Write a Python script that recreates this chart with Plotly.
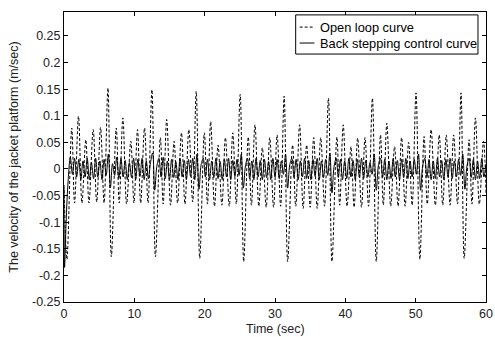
import plotly.graph_objects as go

# ---- Open loop curve (extrema) ----
open_t = [0.0, 0.42,
          1.1, 1.5, 2.06, 2.55, 3.1, 3.55, 4.15, 4.65, 5.2, 5.7, 6.25, 6.73,
          7.43, 7.85, 8.37, 8.9, 9.5, 9.95, 10.45, 10.9, 11.45, 11.95, 12.5, 13.0,
          13.7, 14.1, 14.6, 15.15, 15.65, 16.15, 16.7, 17.2, 17.75, 18.3, 18.8, 19.3,
          19.95, 20.4, 20.85, 21.4, 21.9, 22.45, 22.95, 23.5, 24.0, 24.5, 25.05, 25.55,
          26.2, 26.65, 27.15, 27.7, 28.2, 28.75, 29.25, 29.8, 30.3, 30.8, 31.3, 31.8,
          32.5, 32.95, 33.5, 34.0, 34.5, 35.0, 35.5, 36.0, 36.5, 37.05, 37.6, 38.1,
          38.8, 39.2, 39.7, 40.25, 40.8, 41.25, 41.75, 42.3, 42.8, 43.3, 43.85, 44.4,
          45.0, 45.4, 45.9, 46.45, 47.0, 47.5, 48.0, 48.5, 49.0, 49.5, 50.05, 50.6,
          51.2, 51.65, 52.2, 52.8, 53.35, 53.85, 54.35, 54.9, 55.4, 55.95, 56.45, 56.9,
          57.6, 58.0, 58.5, 59.05, 59.65, 60.0]
open_v = [-0.03, -0.17,
          0.077, -0.064, 0.099, -0.064, 0.055, -0.064, 0.074, -0.062, 0.078, -0.064, 0.152, -0.165,
          0.077, -0.064, 0.096, -0.066, 0.052, -0.064, 0.074, -0.064, 0.077, -0.064, 0.149, -0.165,
          0.059, -0.066, 0.093, -0.068, 0.052, -0.064, 0.068, -0.066, 0.074, -0.062, 0.146, -0.168,
          0.068, -0.066, 0.089, -0.070, 0.045, -0.068, 0.059, -0.070, 0.068, -0.066, 0.140, -0.174,
          0.060, -0.068, 0.083, -0.070, 0.040, -0.072, 0.059, -0.072, 0.064, -0.070, 0.137, -0.174,
          0.045, -0.070, 0.083, -0.074, 0.045, -0.072, 0.059, -0.074, 0.059, -0.070, 0.133, -0.174,
          0.060, -0.068, 0.083, -0.070, 0.042, -0.072, 0.058, -0.072, 0.059, -0.070, 0.133, -0.174,
          0.064, -0.068, 0.086, -0.070, 0.042, -0.070, 0.059, -0.070, 0.050, -0.068, 0.143, -0.170,
          0.061, -0.066, 0.074, -0.068, 0.064, -0.068, 0.064, -0.068, 0.064, -0.066, 0.143, -0.168,
          0.055, -0.066, 0.096, -0.066, 0.052, -0.045]

# ---- Back stepping control curve ----
bs_start_t = [0.0, 0.08, 0.3, 0.55]
bs_start_v = [-0.035, -0.185, -0.10, -0.03]
bs_step = 0.3          # sampling step of the values below, starting at t = 0.9 s
bs_first = 0.9
bs_v = [
    0.022, -0.010, 0.020, -0.015, 0.018, -0.020, 0.015, -0.015, 0.020, -0.020,
    0.012, -0.018, 0.020, -0.015, 0.015, -0.020, 0.018, -0.012, 0.028, -0.035,
    0.010, -0.012, 0.022, -0.018, 0.020, -0.015, 0.016, -0.020, 0.012, -0.016,
    0.020, -0.020, 0.018, -0.014, 0.020, -0.020, 0.015, -0.018, 0.012, 0.030,
    -0.040, 0.005, 0.020, -0.015, 0.022, -0.018, 0.015, -0.020, 0.018, -0.016,
    0.014, -0.020, 0.020, -0.015, 0.016, -0.020, 0.018, -0.014, 0.020, -0.020,
    0.028, -0.038, 0.008, 0.020, -0.015, 0.018, -0.020, 0.015, -0.016, 0.020,
    -0.018, 0.014, -0.020, 0.018, -0.015, 0.020, -0.020, 0.016, -0.014, 0.018,
    -0.012, 0.028, -0.036, 0.006, 0.020, -0.018, 0.015, -0.020, 0.020, -0.015,
    0.016, -0.020, 0.018, -0.016, 0.014, -0.020, 0.020, -0.015, 0.018, -0.018,
    0.015, -0.010, 0.028, -0.036, 0.008, 0.020, -0.016, 0.018, -0.020, 0.015,
    -0.015, 0.020, -0.018, 0.016, -0.020, 0.018, -0.014, 0.020, -0.020, 0.015,
    -0.016, 0.018, -0.012, 0.030, -0.045, 0.005, 0.020, -0.016, 0.018, -0.020,
    0.015, -0.018, 0.020, -0.015, 0.016, -0.020, 0.018, -0.016, 0.020, -0.018,
    0.016, -0.015, 0.012, -0.010, 0.028, -0.040, 0.006, 0.020, -0.016, 0.018,
    -0.020, 0.015, -0.018, 0.020, -0.015, 0.016, -0.020, 0.018, -0.016, 0.020,
    -0.018, 0.015, -0.015, 0.018, -0.010, 0.028, -0.040, 0.006, 0.020, -0.016,
    0.018, -0.020, 0.015, -0.018, 0.020, -0.015, 0.016, -0.020, 0.018, -0.016,
    0.020, -0.018, 0.015, -0.015, 0.018, -0.012, 0.028, -0.038, 0.006, 0.020,
    -0.016, 0.018, -0.020, 0.015, -0.018, 0.020, -0.015, 0.010]
bs_t = bs_start_t + [round(bs_first + bs_step * i, 2) for i in range(len(bs_v))]
bs_all = bs_start_v + bs_v

x_ticks = [0, 10, 20, 30, 40, 50, 60]
y_ticks = [-0.25, -0.2, -0.15, -0.1, -0.05, 0, 0.05, 0.1, 0.15, 0.2, 0.25]
y_text = ["-0.25", "-0.2", "-0.15", "-0.1", "-0.05", "0", "0.05", "0.1", "0.15", "0.2", "0.25"]
series_names = ["Open loop curve", "Back stepping control curve"]

FONT = "Liberation Sans, Arial, sans-serif"
FS = 12.5
DASH = "3px,2px"

fig = go.Figure()
fig.add_trace(go.Scatter(x=open_t, y=open_v, mode="lines", name=series_names[0], showlegend=False,
                         line=dict(color="black", width=1, dash=DASH, shape="spline")))
fig.add_trace(go.Scatter(x=bs_t, y=bs_all, mode="lines", name=series_names[1], showlegend=False,
                         line=dict(color="black", width=1, shape="spline")))

axis_common = dict(showline=True, linecolor="black", linewidth=1, mirror="allticks",
                   ticks="inside", ticklen=4, tickcolor="black", showgrid=False,
                   zeroline=False, tickfont=dict(family=FONT, size=FS, color="#222"))

fig.update_xaxes(range=[0, 60], tickvals=x_ticks, ticklabeloverflow="allow", **axis_common)
fig.update_yaxes(range=[-0.25, 0.295], tickvals=y_ticks, ticktext=y_text,
                 title=dict(text="The velocity of the jacket platform (m/sec)",
                            font=dict(family=FONT, size=FS, color="#222"), standoff=10),
                 **axis_common)

# ---- legend box drawn in paper coordinates (MATLAB style) ----
# plot area: 64..493 px horizontally, 12..302 px vertically
box_x0, box_x1, box_y0, box_y1 = 0.549, 0.981, 0.855, 0.990
row_y = [0.948, 0.893]
samp_x0, samp_x1, text_x = 0.5584, 0.5935, 0.6028
shapes = [dict(type="rect", xref="paper", yref="paper", x0=box_x0, x1=box_x1, y0=box_y0, y1=box_y1,
               line=dict(color="black", width=1), fillcolor="white", layer="above")]
annotations = []
for i, name in enumerate(series_names):
    shapes.append(dict(type="line", xref="paper", yref="paper", x0=samp_x0, x1=samp_x1,
                       y0=row_y[i], y1=row_y[i], layer="above",
                       line=dict(color="black", width=1, dash=DASH if i == 0 else "solid")))
    annotations.append(dict(x=text_x, y=row_y[i], xref="paper", yref="paper", text=name,
                            showarrow=False, xanchor="left", yanchor="middle",
                            font=dict(family=FONT, size=12.8, color="black")))
# x-axis title
annotations.append(dict(x=0.5, y=-0.093, xref="paper", yref="paper", text="Time (sec)",
                        showarrow=False, xanchor="center", yanchor="middle",
                        font=dict(family=FONT, size=FS, color="#222")))

fig.update_layout(
    width=495, height=337,
    margin=dict(l=64, r=2, t=12, b=35),
    paper_bgcolor="white", plot_bgcolor="white",
    showlegend=False, shapes=shapes, annotations=annotations,
)

# place the figure at the window origin (remove the browser's default body margin)
fig.write_html("out.html", config={"displayModeBar": False},
               post_script="document.body.style.margin='0px';")
